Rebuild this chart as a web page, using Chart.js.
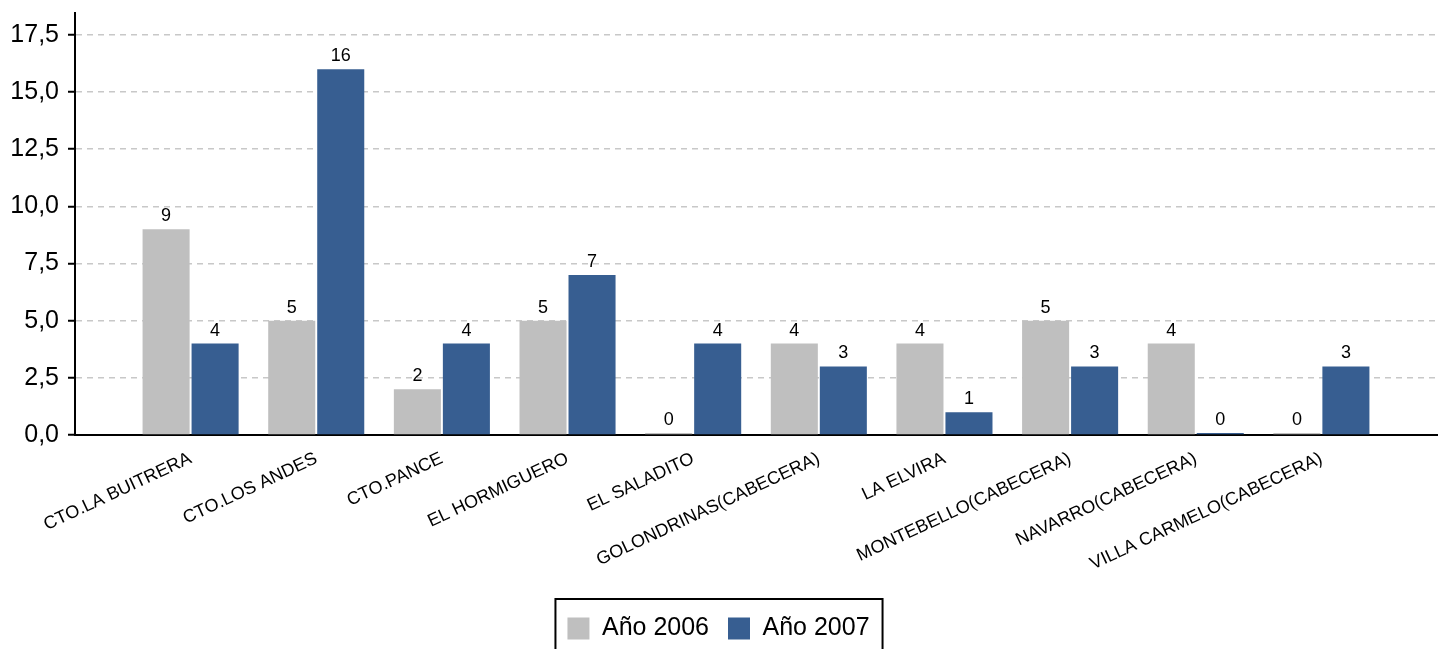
<!DOCTYPE html>
<html>
<head>
<meta charset="utf-8">
<title>Año 2006 / Año 2007</title>
<script src="https://cdn.jsdelivr.net/npm/chart.js@4"></script>
<style>
  html, body { margin: 0; padding: 0; background: #fff; }
  #wrap { width: 1443px; height: 649px; position: relative; }
</style>
</head>
<body>
<div id="wrap"><canvas id="chart"></canvas></div>
<script>
/* ====== DATA ====== */
var categories = [
    "CTO.LA BUITRERA", "CTO.LOS ANDES", "CTO.PANCE", "EL HORMIGUERO", "EL SALADITO",
    "GOLONDRINAS(CABECERA)", "LA ELVIRA", "MONTEBELLO(CABECERA)", "NAVARRO(CABECERA)",
    "VILLA CARMELO(CABECERA)"
];
var values2006 = [9, 5, 2, 5, 0, 4, 4, 5, 4, 0];
var values2007 = [4, 16, 4, 7, 4, 3, 1, 3, 0, 3];
var yTicks = [0, 2.5, 5, 7.5, 10, 12.5, 15, 17.5];

var FONT = "'Liberation Sans', Arial, sans-serif";

/* ====== PLUGINS ====== */
// value above each bar
var barLabels = {
    id: "barLabels",
    afterDatasetsDraw: function (chart) {
        var ctx = chart.ctx;
        ctx.save();
        ctx.font = "18px " + FONT;
        ctx.fillStyle = "#000";
        ctx.textAlign = "center";
        ctx.textBaseline = "alphabetic";
        chart.data.datasets.forEach(function (ds, di) {
            var meta = chart.getDatasetMeta(di);
            meta.data.forEach(function (bar, i) {
                ctx.fillText(String(ds.data[i].y), bar.x, bar.y - 8);
            });
        });
        ctx.restore();
    }
};

// frame round the legend items
var legendFrame = {
    id: "legendFrame",
    afterDraw: function (chart) {
        var boxes = chart.legend.legendHitBoxes;
        if (!boxes || !boxes.length) return;
        var first = boxes[0], last = boxes[boxes.length - 1];
        var ctx = chart.ctx;
        ctx.save();
        ctx.strokeStyle = "#000";
        ctx.lineWidth = 2;
        ctx.strokeRect(first.left - 12, first.top - 17, (last.left + last.width) - first.left + 25, 80);
        ctx.restore();
    }
};

/* ====== CHART ====== */
function toData(arr) {
    return arr.map(function (v, i) { return { x: i, y: v }; });
}

var chart = new Chart(document.getElementById("chart").getContext("2d"), {
    type: "bar",
    data: {
        datasets: [
            {
                label: "Año 2006",
                data: toData(values2006),
                backgroundColor: "#BFBFBF",
                borderWidth: 0,
                minBarLength: 2
            },
            {
                label: "Año 2007",
                data: toData(values2007),
                backgroundColor: "#375E91",
                borderWidth: 0,
                minBarLength: 2
            }
        ]
    },
    options: {
        responsive: true,
        maintainAspectRatio: false,
        animation: false,
        devicePixelRatio: 1,
        categoryPercentage: 0.78,
        barPercentage: 0.96,
        layout: { padding: { top: 13, right: 6, left: 0, bottom: -2 } },
        plugins: {
            tooltip: { enabled: false },
            legend: {
                position: "bottom",
                labels: {
                    boxWidth: 22, boxHeight: 22, padding: 19,
                    color: "#000",
                    font: { family: FONT, size: 25 }
                }
            }
        },
        scales: {
            x: {
                type: "linear",
                min: -0.92, max: 9.92,
                offset: false,
                grid: { display: false },
                border: { display: true, color: "#000", width: 2 },
                afterBuildTicks: function (scale) {
                    scale.ticks = categories.map(function (c, i) { return { value: i }; });
                },
                afterFit: function (scale) { scale.height = 162; },
                ticks: {
                    autoSkip: false,
                    minRotation: 25, maxRotation: 25,
                    padding: 5,
                    color: "#000",
                    font: { family: FONT, size: 18 },
                    callback: function (v) { return categories[v]; }
                }
            },
            y: {
                min: 0, max: 18.46,
                afterBuildTicks: function (scale) {
                    scale.ticks = yTicks.map(function (v) { return { value: v }; });
                },
                afterFit: function (scale) {
                    scale.width = 75;
                    scale.paddingTop = 0;
                    scale.paddingBottom = 0;
                },
                grid: {
                    color: "#C8C8C8",
                    lineWidth: 1.5,
                    tickLength: 7,
                    tickColor: "#000",
                    tickWidth: 2,
                    tickBorderDash: []
                },
                border: { display: true, color: "#000", width: 2, dash: [6, 5] },
                ticks: {
                    padding: 9,
                    color: "#000",
                    font: { family: FONT, size: 25 },
                    callback: function (v) { return v.toFixed(1).replace(".", ","); }
                }
            }
        }
    },
    plugins: [barLabels, legendFrame]
});
</script>
</body>
</html>
